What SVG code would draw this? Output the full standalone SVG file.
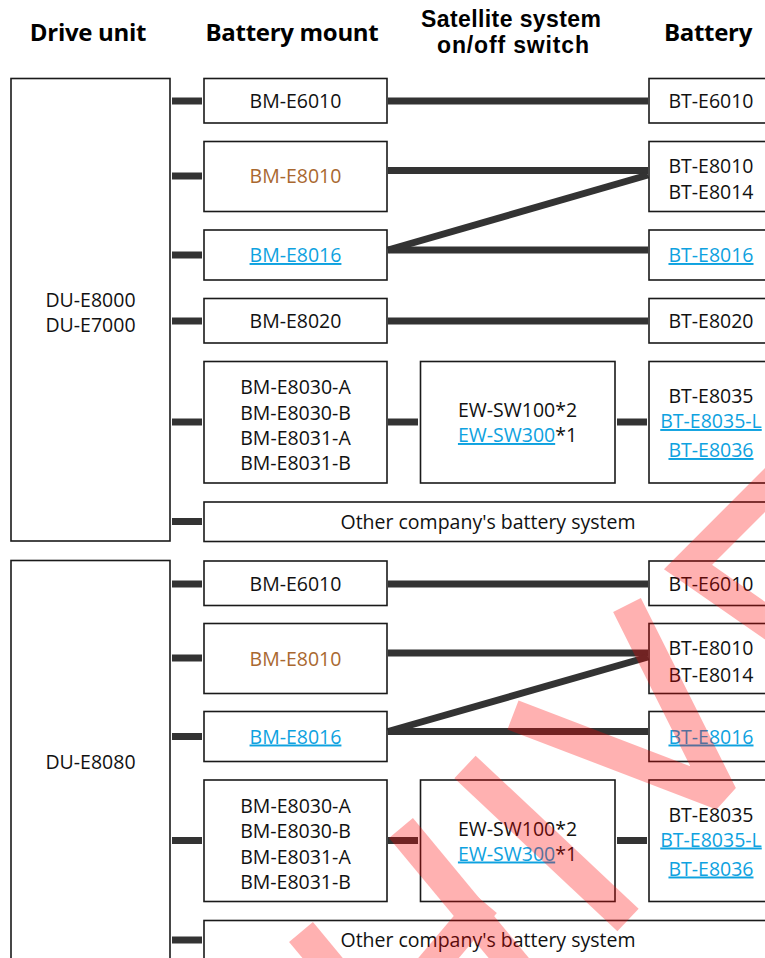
<svg xmlns="http://www.w3.org/2000/svg" width="765" height="958" viewBox="0 0 765 958">
<style>
.box{fill:#fff;stroke:#1a1a1a;stroke-width:1.6}
.lbl{font-family:"Open Sans","Noto Sans","Liberation Sans",sans-serif;font-size:19.5px;fill:#111;text-anchor:middle}
.hdr{font-family:"Open Sans","Noto Sans","Liberation Sans",sans-serif;font-weight:700;font-size:24px;fill:#000;text-anchor:middle;letter-spacing:-0.3px}
.hdr2{font-family:"Liberation Sans",Arial,sans-serif;font-weight:700;font-size:23px;fill:#000;text-anchor:middle}
.link{fill:#0ea2e0;text-decoration:underline}
.brown{fill:#a9682f}
.conn{stroke:#333;stroke-width:7;fill:none;stroke-linecap:butt}
</style>
<rect width="765" height="958" fill="#fff"/>
<g id="headers">
<text class="hdr" x="88" y="41">Drive unit</text>
<text class="hdr" x="292" y="41">Battery mount</text>
<text class="hdr2" x="511" y="26.5" textLength="180" lengthAdjust="spacing">Satellite system</text>
<text class="hdr2" x="513" y="52.5" textLength="152" lengthAdjust="spacing">on/off switch</text>
<text class="hdr" x="708" y="41">Battery</text>
</g>
<g id="connectors">
<g class="conn">
<line x1="172" y1="101" x2="202" y2="101"/>
<line x1="172" y1="176" x2="202" y2="176"/>
<line x1="172" y1="255" x2="202" y2="255"/>
<line x1="172" y1="321" x2="202" y2="321"/>
<line x1="172" y1="422" x2="202" y2="422"/>
<line x1="172" y1="521.5" x2="202" y2="521.5"/>
<line x1="388" y1="101" x2="648" y2="101"/>
<line x1="388" y1="170.5" x2="648" y2="170.5"/>
<line x1="388" y1="250" x2="648" y2="250"/>
<line x1="388" y1="250" x2="648" y2="175"/>
<line x1="388" y1="321" x2="648" y2="321"/>
<line x1="388" y1="422" x2="418" y2="422"/>
<line x1="617" y1="422" x2="647" y2="422"/>
<line x1="172" y1="584" x2="202" y2="584"/>
<line x1="172" y1="658" x2="202" y2="658"/>
<line x1="172" y1="736.5" x2="202" y2="736.5"/>
<line x1="172" y1="840.5" x2="202" y2="840.5"/>
<line x1="172" y1="940" x2="202" y2="940"/>
<line x1="388" y1="584" x2="648" y2="584"/>
<line x1="388" y1="653" x2="648" y2="653"/>
<line x1="388" y1="731.5" x2="648" y2="731.5"/>
<line x1="388" y1="731.5" x2="648" y2="657"/>
<line x1="388" y1="840.5" x2="418" y2="840.5"/>
<line x1="617" y1="840.5" x2="647" y2="840.5"/>
</g>
</g>
<g id="du1"><rect class="box" x="11" y="78.5" width="159" height="462.5"/><text class="lbl" x="90.5" y="306.5">DU-E8000</text><text class="lbl" x="90.5" y="332">DU-E7000</text></g>
<g id="bm1-6010"><rect class="box" x="204" y="78.5" width="183" height="44.5"/><text class="lbl" x="295.5" y="108">BM-E6010</text></g>
<g id="bm1-8010"><rect class="box" x="204" y="141.5" width="183" height="70"/><text class="lbl brown" x="295.5" y="183">BM-E8010</text></g>
<g id="bm1-8016"><rect class="box" x="204" y="230" width="183" height="50"/><text class="lbl link" x="295.5" y="262">BM-E8016</text></g>
<g id="bm1-8020"><rect class="box" x="204" y="298.5" width="183" height="44.5"/><text class="lbl" x="295.5" y="328">BM-E8020</text></g>
<g id="bm1-8030"><rect class="box" x="204" y="361.5" width="183" height="121.5"/><text class="lbl" x="295.5" y="394">BM-E8030-A</text><text class="lbl" x="295.5" y="419.5">BM-E8030-B</text><text class="lbl" x="295.5" y="445">BM-E8031-A</text><text class="lbl" x="295.5" y="470">BM-E8031-B</text></g>
<g id="other1"><rect class="box" x="204" y="502" width="620" height="39.5"/><text class="lbl" x="488" y="528.5">Other company's battery system</text></g>
<g id="sw1"><rect class="box" x="420.5" y="361.5" width="194.5" height="121.5"/><text class="lbl" x="517.5" y="417">EW-SW100*2</text><text class="lbl" x="517.5" y="442"><tspan class="link">EW-SW300</tspan>*1</text></g>
<g id="bt1-6010"><rect class="box" x="649" y="78.5" width="150" height="44.5"/><text class="lbl" x="711" y="108">BT-E6010</text></g>
<g id="bt1-8010"><rect class="box" x="649" y="141.5" width="150" height="70"/><text class="lbl" x="711" y="172.5">BT-E8010</text><text class="lbl" x="711" y="199">BT-E8014</text></g>
<g id="bt1-8016"><rect class="box" x="649" y="230" width="150" height="50"/><text class="lbl link" x="711" y="262">BT-E8016</text></g>
<g id="bt1-8020"><rect class="box" x="649" y="298.5" width="150" height="44.5"/><text class="lbl" x="711" y="328">BT-E8020</text></g>
<g id="bt1-8035"><rect class="box" x="649" y="361.5" width="150" height="121.5"/><text class="lbl" x="711" y="403">BT-E8035</text><text class="lbl link" x="711" y="428">BT-E8035-L</text><text class="lbl link" x="711" y="457">BT-E8036</text></g>
<g id="du2"><rect class="box" x="11" y="560.5" width="159" height="440"/><text class="lbl" x="90.5" y="769">DU-E8080</text></g>
<g id="bm2-6010"><rect class="box" x="204" y="561" width="183" height="44.5"/><text class="lbl" x="295.5" y="590.5">BM-E6010</text></g>
<g id="bm2-8010"><rect class="box" x="204" y="623.5" width="183" height="70"/><text class="lbl brown" x="295.5" y="665.5">BM-E8010</text></g>
<g id="bm2-8016"><rect class="box" x="204" y="711.5" width="183" height="50"/><text class="lbl link" x="295.5" y="743.5">BM-E8016</text></g>
<g id="bm2-8030"><rect class="box" x="204" y="780" width="183" height="121.5"/><text class="lbl" x="295.5" y="812.5">BM-E8030-A</text><text class="lbl" x="295.5" y="838">BM-E8030-B</text><text class="lbl" x="295.5" y="863.5">BM-E8031-A</text><text class="lbl" x="295.5" y="888.5">BM-E8031-B</text></g>
<g id="other2"><rect class="box" x="204" y="920.5" width="620" height="60"/><text class="lbl" x="488" y="947">Other company's battery system</text></g>
<g id="sw2"><rect class="box" x="420.5" y="780" width="194.5" height="121.5"/><text class="lbl" x="517.5" y="835.5">EW-SW100*2</text><text class="lbl" x="517.5" y="860.5"><tspan class="link">EW-SW300</tspan>*1</text></g>
<g id="bt2-6010"><rect class="box" x="649" y="561" width="150" height="44.5"/><text class="lbl" x="711" y="590.5">BT-E6010</text></g>
<g id="bt2-8010"><rect class="box" x="649" y="623.5" width="150" height="70"/><text class="lbl" x="711" y="655">BT-E8010</text><text class="lbl" x="711" y="681.5">BT-E8014</text></g>
<g id="bt2-8016"><rect class="box" x="649" y="711.5" width="150" height="50"/><text class="lbl link" x="711" y="743.5">BT-E8016</text></g>
<g id="bt2-8035"><rect class="box" x="649" y="780" width="150" height="121.5"/><text class="lbl" x="711" y="821.5">BT-E8035</text><text class="lbl link" x="711" y="846.5">BT-E8035-L</text><text class="lbl link" x="711" y="875.5">BT-E8036</text></g>
<g id="watermark" opacity="0.3" fill="none" stroke="#ff0000" stroke-width="31" stroke-linecap="butt">
<polyline points="800,455 688,567 800,645" stroke-linejoin="miter"/>
<polyline points="627,605 722,795 513,715" stroke-linejoin="bevel"/>
<line x1="465" y1="767" x2="628" y2="920"/>
<line x1="401" y1="828" x2="527" y2="980"/>
<line x1="420" y1="980" x2="485" y2="903"/>
<line x1="301" y1="932" x2="345" y2="985"/>
</g>
</svg>
